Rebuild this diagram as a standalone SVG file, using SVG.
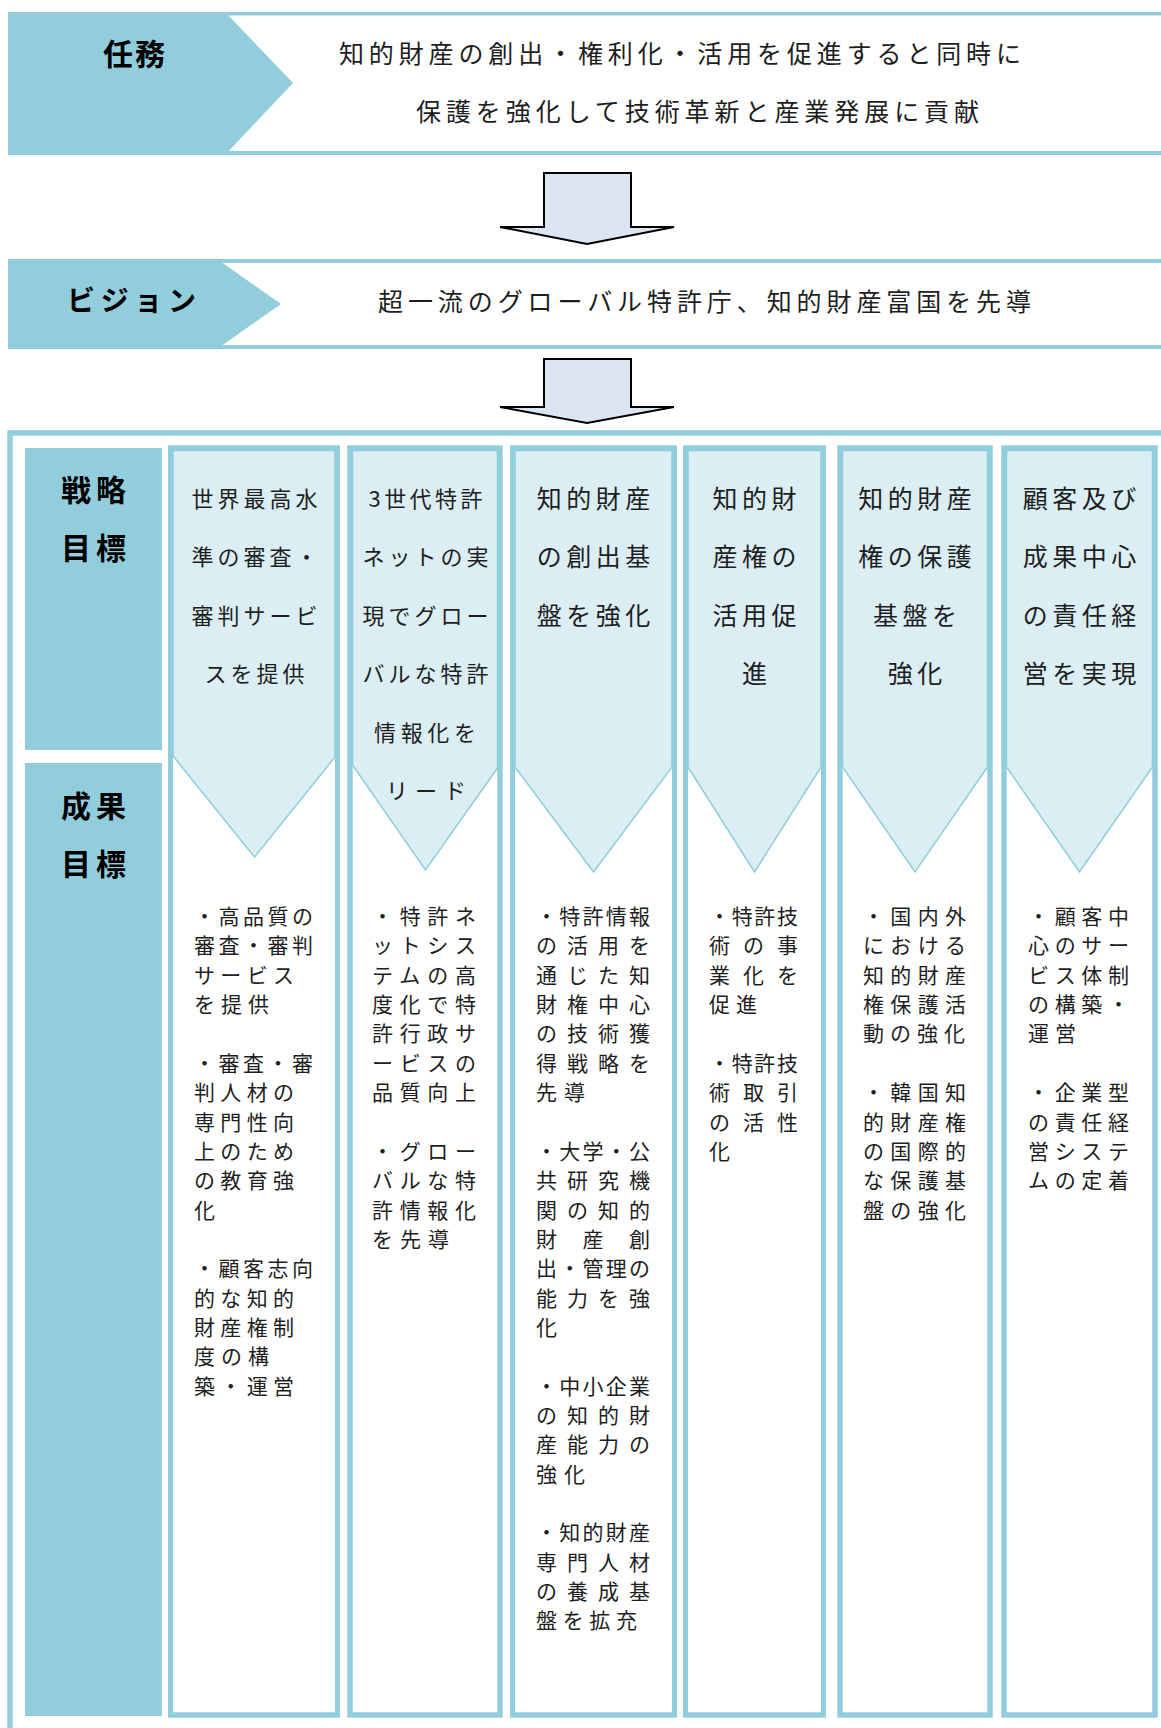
<svg xmlns="http://www.w3.org/2000/svg" width="1161" height="1728" viewBox="0 0 1161 1728">
<defs>
<style>
text{font-family:"Noto Sans CJK JP","Noto Sans CJK SC",sans-serif;fill:#1e1e1e}
.lbl{font-size:30px;font-weight:700;fill:#000}
.big{font-size:25px}
.s22{font-size:22px}
.s25{font-size:25px}
.o{font-size:21px}
.dark{fill:#92CDDC}
.bline{stroke:#92CDDC;fill:none}
.col{fill:#fff;stroke:#92CDDC;stroke-width:5}
.colb{fill:none;stroke:#92CDDC;stroke-width:5}
.pent{fill:#DAEEF3;stroke:#92CDDC;stroke-width:1.5}
.arrow{fill:#DCE6F2;stroke:#000;stroke-width:2;stroke-linejoin:miter}
</style>
</defs>
<rect width="1161" height="1728" fill="#fff"/>

<g id="mission">
<line class="bline" x1="8" y1="13.75" x2="1161" y2="13.75" stroke-width="3.5"/>
<line class="bline" x1="8" y1="153" x2="1161" y2="153" stroke-width="4"/>
<polygon class="dark" points="8,12 225,12 293,83 225,155 8,155"/>
<text class="lbl" x="103" y="65" textLength="62">任務</text>
<text class="big" x="339" y="62.5" textLength="682">知的財産の創出・権利化・活用を促進すると同時に</text>
<text class="big" x="416" y="120.5" textLength="563">保護を強化して技術革新と産業発展に貢献</text>
</g>

<g id="vision">
<line class="bline" x1="8" y1="261" x2="1161" y2="261" stroke-width="4"/>
<line class="bline" x1="8" y1="347" x2="1161" y2="347" stroke-width="4"/>
<polygon class="dark" points="8,259 217,259 281,304 217,349 8,349"/>
<text class="lbl" style="font-size:28px" x="67" y="311" textLength="129">ビジョン</text>
<text class="big" x="378" y="310.5" textLength="653">超一流のグローバル特許庁、知的財産富国を先導</text>
</g>

<g id="connectors">
<polygon class="arrow" points="544,173 631,173 631,227 674,227 587,244 500,227 544,227"/>
<polygon class="arrow" points="544,359 631,359 631,407 674,407 587,423 500,407 544,407"/>
</g>

<g id="frame">
<rect x="10" y="433" width="1200" height="1400" fill="none" stroke="#92CDDC" stroke-width="5.5"/>
</g>

<g id="label-strategy">
<rect class="dark" x="25" y="448" width="137" height="302"/>
<text class="lbl" x="61" y="501" textLength="65">戦略</text>
<text class="lbl" x="61" y="559" textLength="65">目標</text>
</g>

<g id="label-outcome">
<rect class="dark" x="25" y="763" width="137" height="953"/>
<text class="lbl" x="61" y="817" textLength="65">成果</text>
<text class="lbl" x="61" y="875" textLength="65">目標</text>
</g>

<g id="col1">
<rect class="col" x="170.5" y="448" width="167" height="1267"/>
<polygon class="pent" points="173,450.5 335,450.5 335,757 254.5,857 173,756"/>
<rect class="colb" x="170.5" y="448" width="167" height="1267"/>
<text class="s22" x="191.5" y="507" textLength="126">世界最高水</text>
<text class="s22" x="191.5" y="565" textLength="126">準の審査・</text>
<text class="s22" x="191.5" y="623.5" textLength="126">審判サービ</text>
<text class="s22" x="204.5" y="681.5" textLength="100">スを提供</text>
<text class="o" x="194" y="924" textLength="119">・高品質の</text>
<text class="o" x="194" y="953.4" textLength="119">審査・審判</text>
<text class="o" x="194" y="982.7" textLength="100">サービス</text>
<text class="o" x="194" y="1012.1" textLength="75">を提供</text>
<text class="o" x="194" y="1070.8" textLength="119">・審査・審</text>
<text class="o" x="194" y="1100.1" textLength="100">判人材の</text>
<text class="o" x="194" y="1129.5" textLength="100">専門性向</text>
<text class="o" x="194" y="1158.8" textLength="100">上のため</text>
<text class="o" x="194" y="1188.2" textLength="100">の教育強</text>
<text class="o" x="194" y="1217.5">化</text>
<text class="o" x="194" y="1276.2" textLength="119">・顧客志向</text>
<text class="o" x="194" y="1305.6" textLength="100">的な知的</text>
<text class="o" x="194" y="1334.9" textLength="100">財産権制</text>
<text class="o" x="194" y="1364.3" textLength="75">度の構</text>
<text class="o" x="194" y="1393.6" textLength="100">築・運営</text>
</g>

<g id="col2">
<rect class="col" x="350" y="448" width="150" height="1267"/>
<polygon class="pent" points="352.5,450.5 497.5,450.5 497.5,768 425.5,870 352.5,765"/>
<rect class="colb" x="350" y="448" width="150" height="1267"/>
<text class="s22" x="368.5" y="507" textLength="114">3世代特許</text>
<text class="s22" x="362.5" y="565" textLength="126">ネットの実</text>
<text class="s22" x="362.5" y="623.5" textLength="126">現でグロー</text>
<text class="s22" x="362.5" y="681.5" textLength="126">バルな特許</text>
<text class="s22" x="374" y="740.5" textLength="102">情報化を</text>
<text class="s22" x="386" y="799" textLength="80">リード</text>
<text class="o" x="372" y="924" textLength="104">・特許ネ</text>
<text class="o" x="372" y="953.4" textLength="104">ットシス</text>
<text class="o" x="372" y="982.7" textLength="104">テムの高</text>
<text class="o" x="372" y="1012.1" textLength="104">度化で特</text>
<text class="o" x="372" y="1041.4" textLength="104">許行政サ</text>
<text class="o" x="372" y="1070.8" textLength="104">ービスの</text>
<text class="o" x="372" y="1100.1" textLength="104">品質向上</text>
<text class="o" x="372" y="1158.8" textLength="104">・グロー</text>
<text class="o" x="372" y="1188.2" textLength="104">バルな特</text>
<text class="o" x="372" y="1217.5" textLength="104">許情報化</text>
<text class="o" x="372" y="1246.9" textLength="77">を先導</text>
</g>

<g id="col3">
<rect class="col" x="512.5" y="448" width="162" height="1267"/>
<polygon class="pent" points="515,450.5 672,450.5 672,767 593.5,872 515,767"/>
<rect class="colb" x="512.5" y="448" width="162" height="1267"/>
<text class="s25" x="536.75" y="508" textLength="113.5">知的財産</text>
<text class="s25" x="536.75" y="566" textLength="113.5">の創出基</text>
<text class="s25" x="536.75" y="624.5" textLength="113.5">盤を強化</text>
<text class="o" x="536" y="924" textLength="114">・特許情報</text>
<text class="o" x="536" y="953.4" textLength="114">の活用を</text>
<text class="o" x="536" y="982.7" textLength="114">通じた知</text>
<text class="o" x="536" y="1012.1" textLength="114">財権中心</text>
<text class="o" x="536" y="1041.4" textLength="114">の技術獲</text>
<text class="o" x="536" y="1070.8" textLength="114">得戦略を</text>
<text class="o" x="536" y="1100.1" textLength="49">先導</text>
<text class="o" x="536" y="1158.8" textLength="114">・大学・公</text>
<text class="o" x="536" y="1188.2" textLength="114">共研究機</text>
<text class="o" x="536" y="1217.5" textLength="114">関の知的</text>
<text class="o" x="536" y="1246.9" textLength="114">財産創</text>
<text class="o" x="536" y="1276.2" textLength="114">出・管理の</text>
<text class="o" x="536" y="1305.6" textLength="114">能力を強</text>
<text class="o" x="536" y="1334.9">化</text>
<text class="o" x="536" y="1393.6" textLength="114">・中小企業</text>
<text class="o" x="536" y="1423" textLength="114">の知的財</text>
<text class="o" x="536" y="1452.3" textLength="114">産能力の</text>
<text class="o" x="536" y="1481.7" textLength="49">強化</text>
<text class="o" x="536" y="1540.4" textLength="114">・知的財産</text>
<text class="o" x="536" y="1569.7" textLength="114">専門人材</text>
<text class="o" x="536" y="1599.1" textLength="114">の養成基</text>
<text class="o" x="536" y="1628.4" textLength="101">盤を拡充</text>
</g>

<g id="col4">
<rect class="col" x="685.5" y="448" width="138" height="1267"/>
<polygon class="pent" points="688,450.5 821,450.5 821,767 754.5,872 688,767"/>
<rect class="colb" x="685.5" y="448" width="138" height="1267"/>
<text class="s25" x="712.5" y="508" textLength="84">知的財</text>
<text class="s25" x="712.5" y="566" textLength="84">産権の</text>
<text class="s25" x="712.5" y="624.5" textLength="84">活用促</text>
<text class="s25" x="742" y="682.5">進</text>
<text class="o" x="709" y="924" textLength="89">・特許技</text>
<text class="o" x="709" y="953.4" textLength="89">術の事</text>
<text class="o" x="709" y="982.7" textLength="89">業化を</text>
<text class="o" x="709" y="1012.1" textLength="48">促進</text>
<text class="o" x="709" y="1070.8" textLength="89">・特許技</text>
<text class="o" x="709" y="1100.1" textLength="89">術取引</text>
<text class="o" x="709" y="1129.5" textLength="89">の活性</text>
<text class="o" x="709" y="1158.8">化</text>
</g>

<g id="col5">
<rect class="col" x="840" y="448" width="150" height="1267"/>
<polygon class="pent" points="842.5,450.5 987.5,450.5 987.5,767 915,872 842.5,767"/>
<rect class="colb" x="840" y="448" width="150" height="1267"/>
<text class="s25" x="858.25" y="508" textLength="113.5">知的財産</text>
<text class="s25" x="858.25" y="566" textLength="113.5">権の保護</text>
<text class="s25" x="873" y="624.5" textLength="84">基盤を</text>
<text class="s25" x="887.75" y="682.5" textLength="54.5">強化</text>
<text class="o" x="863" y="924" textLength="103">・国内外</text>
<text class="o" x="863" y="953.4" textLength="103">における</text>
<text class="o" x="863" y="982.7" textLength="103">知的財産</text>
<text class="o" x="863" y="1012.1" textLength="103">権保護活</text>
<text class="o" x="863" y="1041.4" textLength="102">動の強化</text>
<text class="o" x="863" y="1100.1" textLength="103">・韓国知</text>
<text class="o" x="863" y="1129.5" textLength="103">的財産権</text>
<text class="o" x="863" y="1158.8" textLength="103">の国際的</text>
<text class="o" x="863" y="1188.2" textLength="103">な保護基</text>
<text class="o" x="863" y="1217.5" textLength="103">盤の強化</text>
</g>

<g id="col6">
<rect class="col" x="1004" y="448" width="151" height="1267"/>
<polygon class="pent" points="1006.5,450.5 1152.5,450.5 1152.5,767 1079.5,872 1006.5,767"/>
<rect class="colb" x="1004" y="448" width="151" height="1267"/>
<text class="s25" x="1022.75" y="508" textLength="113.5">顧客及び</text>
<text class="s25" x="1022.75" y="566" textLength="113.5">成果中心</text>
<text class="s25" x="1022.75" y="624.5" textLength="113.5">の責任経</text>
<text class="s25" x="1022.75" y="682.5" textLength="113.5">営を実現</text>
<text class="o" x="1028" y="924" textLength="101">・顧客中</text>
<text class="o" x="1028" y="953.4" textLength="101">心のサー</text>
<text class="o" x="1028" y="982.7" textLength="101">ビス体制</text>
<text class="o" x="1028" y="1012.1" textLength="101">の構築・</text>
<text class="o" x="1028" y="1041.4" textLength="48">運営</text>
<text class="o" x="1028" y="1100.1" textLength="101">・企業型</text>
<text class="o" x="1028" y="1129.5" textLength="101">の責任経</text>
<text class="o" x="1028" y="1158.8" textLength="101">営システ</text>
<text class="o" x="1028" y="1188.2" textLength="101">ムの定着</text>
</g>
</svg>
